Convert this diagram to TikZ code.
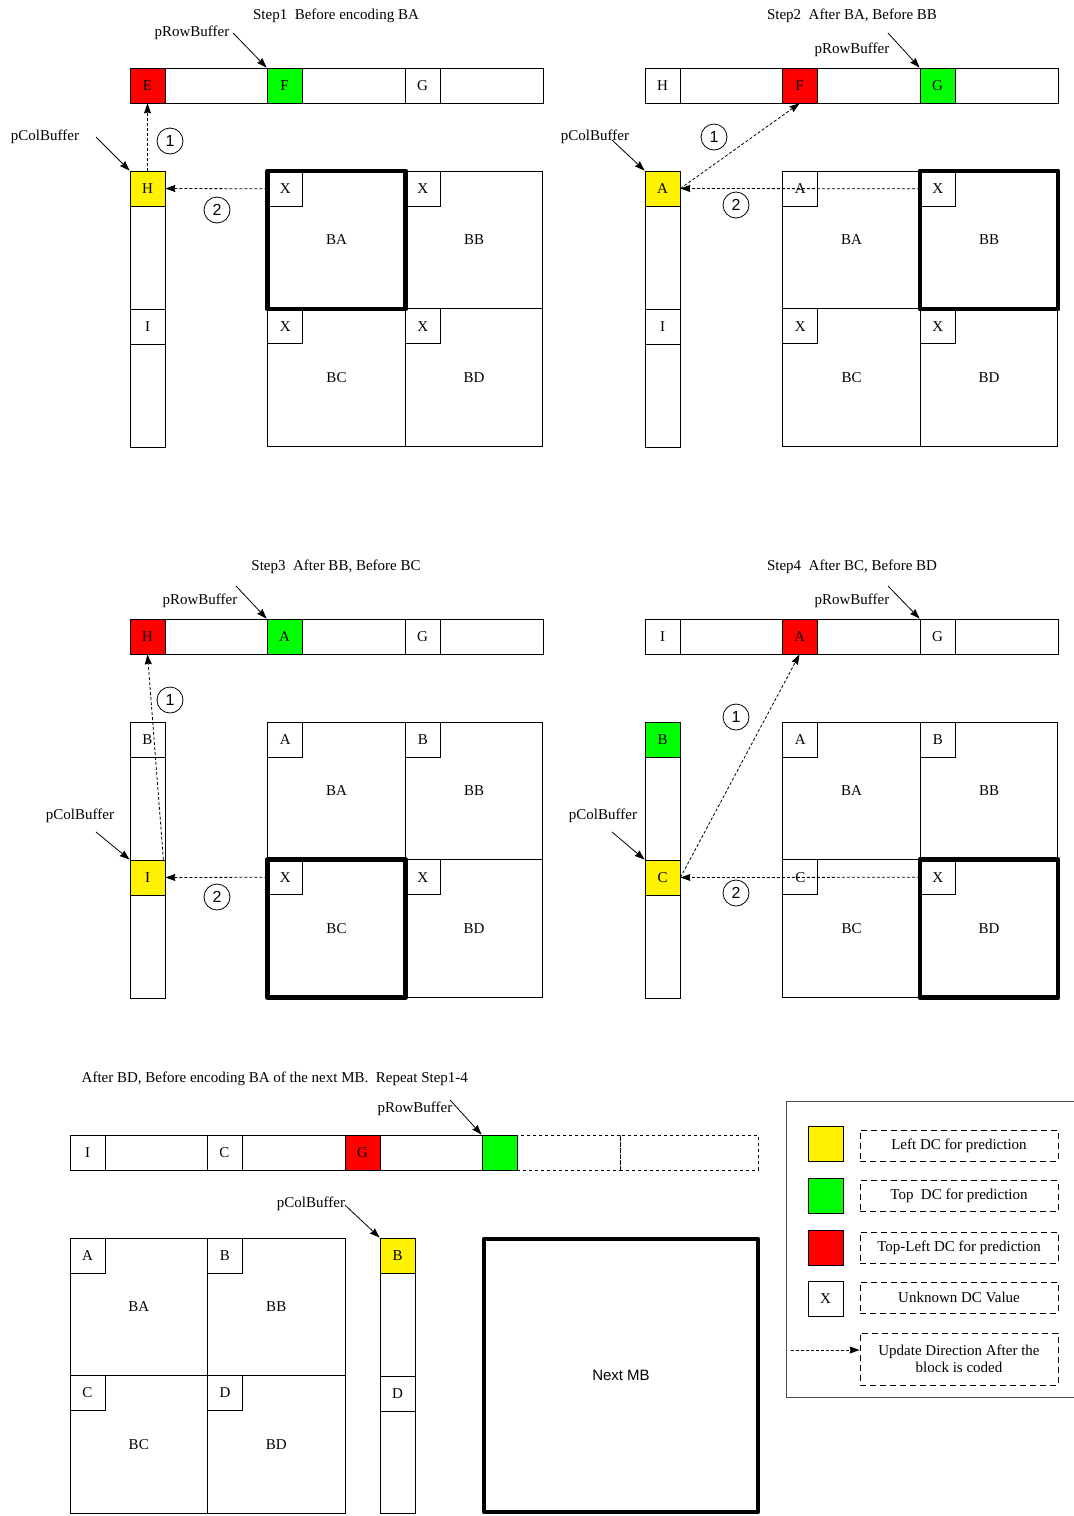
\documentclass[tikz,border=0pt]{standalone}
\usepackage{fontspec}
\setmainfont{Liberation Serif}
\newfontfamily\arialfont{Liberation Sans}
\usetikzlibrary{positioning}
\usetikzlibrary{arrows.meta}
\tikzset{>={Stealth[length=10pt,width=7pt,inset=1pt]}}
\tikzset{cell/.style={rectangle,draw=black,minimum size=35pt,inner sep=0pt}}
\tikzset{blk/.style={rectangle,draw=black,minimum size=137.5pt,inner sep=0pt}}
\tikzset{buf/.style={rectangle,draw=black,inner sep=0pt,anchor=north west}}
\tikzset{cur/.style={draw=black,line width=4.5pt,line join=round}}
\tikzset{upd/.style={->,dash pattern=on 3pt off 2pt}}
\tikzset{num/.style={circle,draw=black,minimum size=26pt,inner sep=0pt,font=\arialfont\fontsize{16}{16}\selectfont}}
\tikzset{legbox/.style={rectangle,draw=black,dash pattern=on 6pt off 4pt,minimum width=198pt,minimum height=31pt,inner sep=0pt,align=center}}

\begin{document}
\begin{tikzpicture}[x=1pt,y=-1pt,line width=0.8pt,font=\fontsize{15}{17}\selectfont]
\useasboundingbox (0,0) rectangle (1074,1516);

% Step1
\begin{scope}
\node at (336,16) (t1) {Step1\ \ Before encoding BA};
\node[buf,minimum width=413pt,minimum height=35pt] at (130,68) (p1row) {};
\node[cell,fill=red] at (147.5,85.5) (p1E) {E};
\node[cell,fill=green] at (284.5,85.5) (p1F) {F};
\node[cell] at (422.5,85.5) (p1G) {G};
\node[buf,minimum width=35pt,minimum height=276pt] at (130,171) (p1col) {};
\node[cell,fill=yellow] at (147.5,188.5) (p1H) {H};
\node[cell] at (147.5,326.5) (p1I) {I};
\node[blk] at (336.5,240) (p1BA) {BA};
\node[blk] at (474,240) (p1BB) {BB};
\node[blk] at (336.5,377.5) (p1BC) {BC};
\node[blk] at (474,377.5) (p1BD) {BD};
\node[cell,anchor=north west] at (p1BA.north west) (p1a) {X};
\node[cell,anchor=north west] at (p1BB.north west) (p1b) {X};
\node[cell,anchor=north west] at (p1BC.north west) (p1c) {X};
\node[cell,anchor=north west] at (p1BD.north west) (p1d) {X};
\draw[cur] (p1BA.north west) rectangle (p1BA.south east);
\node at (192,33) (p1rp) {pRowBuffer};
\draw[->] (p1rp.east) -- (p1F.north west);
\node at (45,137) (p1cp) {pColBuffer};
\coordinate (p1cs) at (96,137);
\draw[->] (p1cs) -- (p1H.north west);
\draw[upd] (p1H.north) -- (p1E.south);
\draw[upd] (p1a.west) -- (p1H.east);
\node[num] at (170,141) (p1n1) {1};
\node[num] at (217,210) (p1n2) {2};
\end{scope}

% Step2
\begin{scope}[shift={(515,0)}]
\node at (337,16) (t2) {Step2\ \ After BA, Before BB};
\node[buf,minimum width=413pt,minimum height=35pt] at (130,68) (p2row) {};
\node[cell] at (147.5,85.5) (p2H) {H};
\node[cell,fill=red] at (284.5,85.5) (p2F) {F};
\node[cell,fill=green] at (422.5,85.5) (p2G) {G};
\node[buf,minimum width=35pt,minimum height=276pt] at (130,171) (p2col) {};
\node[cell,fill=yellow] at (147.5,188.5) (p2A) {A};
\node[cell] at (147.5,326.5) (p2I) {I};
\node[blk] at (336.5,240) (p2BA) {BA};
\node[blk] at (474,240) (p2BB) {BB};
\node[blk] at (336.5,377.5) (p2BC) {BC};
\node[blk] at (474,377.5) (p2BD) {BD};
\node[cell,anchor=north west] at (p2BA.north west) (p2a) {A};
\node[cell,anchor=north west] at (p2BB.north west) (p2b) {X};
\node[cell,anchor=north west] at (p2BC.north west) (p2c) {X};
\node[cell,anchor=north west] at (p2BD.north west) (p2d) {X};
\draw[cur] (p2BB.north west) rectangle (p2BB.south east);
\node at (337,50) (p2rp) {pRowBuffer};
\coordinate (p2rs) at (373,33);
\draw[->] (p2rs) -- (p2G.north west);
\node at (80,137) (p2cp) {pColBuffer};
\coordinate (p2cs) at (97,140);
\draw[->] (p2cs) -- (p2A.north west);
\draw[upd] (p2A.east) -- (p2F.south);
\draw[upd] (p2b.west) -- (p2A.east);
\node[num] at (199,137) (p2n1) {1};
\node[num] at (221,205) (p2n2) {2};
\end{scope}

% Step3
\begin{scope}[shift={(0,551)}]
\node at (336,16) (t3) {Step3\ \ After BB, Before BC};
\node[buf,minimum width=413pt,minimum height=35pt] at (130,68) (p3row) {};
\node[cell,fill=red] at (147.5,85.5) (p3H) {H};
\node[cell,fill=green] at (284.5,85.5) (p3A) {A};
\node[cell] at (422.5,85.5) (p3G) {G};
\node[buf,minimum width=35pt,minimum height=276pt] at (130,171) (p3col) {};
\node[cell] at (147.5,188.5) (p3B) {B};
\node[cell,fill=yellow] at (147.5,326.5) (p3I) {I};
\node[blk] at (336.5,240) (p3BA) {BA};
\node[blk] at (474,240) (p3BB) {BB};
\node[blk] at (336.5,377.5) (p3BC) {BC};
\node[blk] at (474,377.5) (p3BD) {BD};
\node[cell,anchor=north west] at (p3BA.north west) (p3a) {A};
\node[cell,anchor=north west] at (p3BB.north west) (p3b) {B};
\node[cell,anchor=north west] at (p3BC.north west) (p3c) {X};
\node[cell,anchor=north west] at (p3BD.north west) (p3d) {X};
\draw[cur] (p3BC.north west) rectangle (p3BC.south east);
\node at (200,50) (p3rp) {pRowBuffer};
\coordinate (p3rs) at (236,35);
\draw[->] (p3rs) -- (p3A.north west);
\node at (80,265) (p3cp) {pColBuffer};
\coordinate (p3cs) at (96,281);
\draw[->] (p3cs) -- (p3I.north west);
\draw[upd] ([xshift=-2pt]p3I.north east) -- (p3H.south);
\draw[upd] (p3c.west) -- (p3I.east);
\node[num] at (170,149) (p3n1) {1};
\node[num] at (217,346) (p3n2) {2};
\end{scope}

% Step4
\begin{scope}[shift={(515,551)}]
\node at (337,16) (t4) {Step4\ \ After BC, Before BD};
\node[buf,minimum width=413pt,minimum height=35pt] at (130,68) (p4row) {};
\node[cell] at (147.5,85.5) (p4I) {I};
\node[cell,fill=red] at (284.5,85.5) (p4A) {A};
\node[cell] at (422.5,85.5) (p4G) {G};
\node[buf,minimum width=35pt,minimum height=276pt] at (130,171) (p4col) {};
\node[cell,fill=green] at (147.5,188.5) (p4B) {B};
\node[cell,fill=yellow] at (147.5,326.5) (p4C) {C};
\node[blk] at (336.5,240) (p4BA) {BA};
\node[blk] at (474,240) (p4BB) {BB};
\node[blk] at (336.5,377.5) (p4BC) {BC};
\node[blk] at (474,377.5) (p4BD) {BD};
\node[cell,anchor=north west] at (p4BA.north west) (p4a) {A};
\node[cell,anchor=north west] at (p4BB.north west) (p4b) {B};
\node[cell,anchor=north west] at (p4BC.north west) (p4c) {C};
\node[cell,anchor=north west] at (p4BD.north west) (p4d) {X};
\draw[cur] (p4BD.north west) rectangle (p4BD.south east);
\node at (337,50) (p4rp) {pRowBuffer};
\coordinate (p4rs) at (373,35);
\draw[->] (p4rs) -- (p4G.north west);
\node at (88,265) (p4cp) {pColBuffer};
\coordinate (p4cs) at (97,281);
\draw[->] (p4cs) -- (p4C.north west);
\draw[upd] (p4C.east) -- (p4A.south);
\draw[upd] (p4d.west) -- (p4C.east);
\node[num] at (221,166) (p4n1) {1};
\node[num] at (221,342) (p4n2) {2};
\end{scope}

% after BD
\node[anchor=west] at (78,1079) (t5) {After BD, Before encoding BA of the next MB.\ \ Repeat Step1-4};
\node[buf,minimum width=447pt,minimum height=35pt] at (70,1135) (p5row) {};
\node[buf,dashed,minimum width=103pt,minimum height=35pt] at (517,1135) (p5n1) {};
\node[buf,dashed,minimum width=138pt,minimum height=35pt] at (620,1135) (p5n2) {};
\node[cell] at (87.5,1152.5) (p5I) {I};
\node[cell] at (224.5,1152.5) (p5C) {C};
\node[cell,fill=red] at (362.5,1152.5) (p5G) {G};
\node[cell,fill=green] at (499.5,1152.5) (p5T) {};
\node at (415,1109) (p5rp) {pRowBuffer};
\coordinate (p5rs) at (450,1100);
\draw[->] (p5rs) -- (p5T.north west);
\node[blk] at (138.75,1306.75) (p5BA) {BA};
\node[blk] at (276.25,1306.75) (p5BB) {BB};
\node[blk] at (138.75,1444.25) (p5BC) {BC};
\node[blk] at (276.25,1444.25) (p5BD) {BD};
\node[cell,anchor=north west] at (p5BA.north west) (p5a) {A};
\node[cell,anchor=north west] at (p5BB.north west) (p5b) {B};
\node[cell,anchor=north west] at (p5BC.north west) (p5c) {C};
\node[cell,anchor=north west] at (p5BD.north west) (p5d) {D};
\node[buf,minimum width=35pt,minimum height=275pt] at (380,1238) (p5col) {};
\node[cell,fill=yellow] at (397.5,1255.5) (p5B) {B};
\node[cell] at (397.5,1393.5) (p5D) {D};
\node at (311,1204) (p5cp) {pColBuffer};
\coordinate (p5cs) at (345,1205);
\draw[->] (p5cs) -- (p5B.north west);
\node[cur,rectangle,minimum width=274pt,minimum height=273pt,font=\arialfont\fontsize{15}{17}\selectfont] at (621,1375.5) (nextmb) {Next MB};

% legend
\node[buf,draw=black!70,minimum width=300pt,minimum height=296pt] at (786,1101) (leg) {};
\node[cell,fill=yellow] at (825.5,1143.5) (ky) {};
\node[cell,fill=green] at (825.5,1195.5) (kg) {};
\node[cell,fill=red] at (825.5,1247.5) (kr) {};
\node[cell] at (825.5,1298.5) (kx) {X};
\node[legbox] at (959,1145.5) (ly) {Left DC for prediction};
\node[legbox] at (959,1196) (lg) {Top\ \ DC for prediction};
\node[legbox] at (959,1247.5) (lr) {Top-Left DC for prediction};
\node[legbox] at (959,1297.5) (lx) {Unknown DC Value};
\node[legbox,minimum height=52pt] at (959,1359) (lu) {Update Direction After the\\block is coded};
\coordinate (ks) at (791,1350);
\draw[upd] (ks) -- (ks -| lu.west);

\end{tikzpicture}
\end{document}
